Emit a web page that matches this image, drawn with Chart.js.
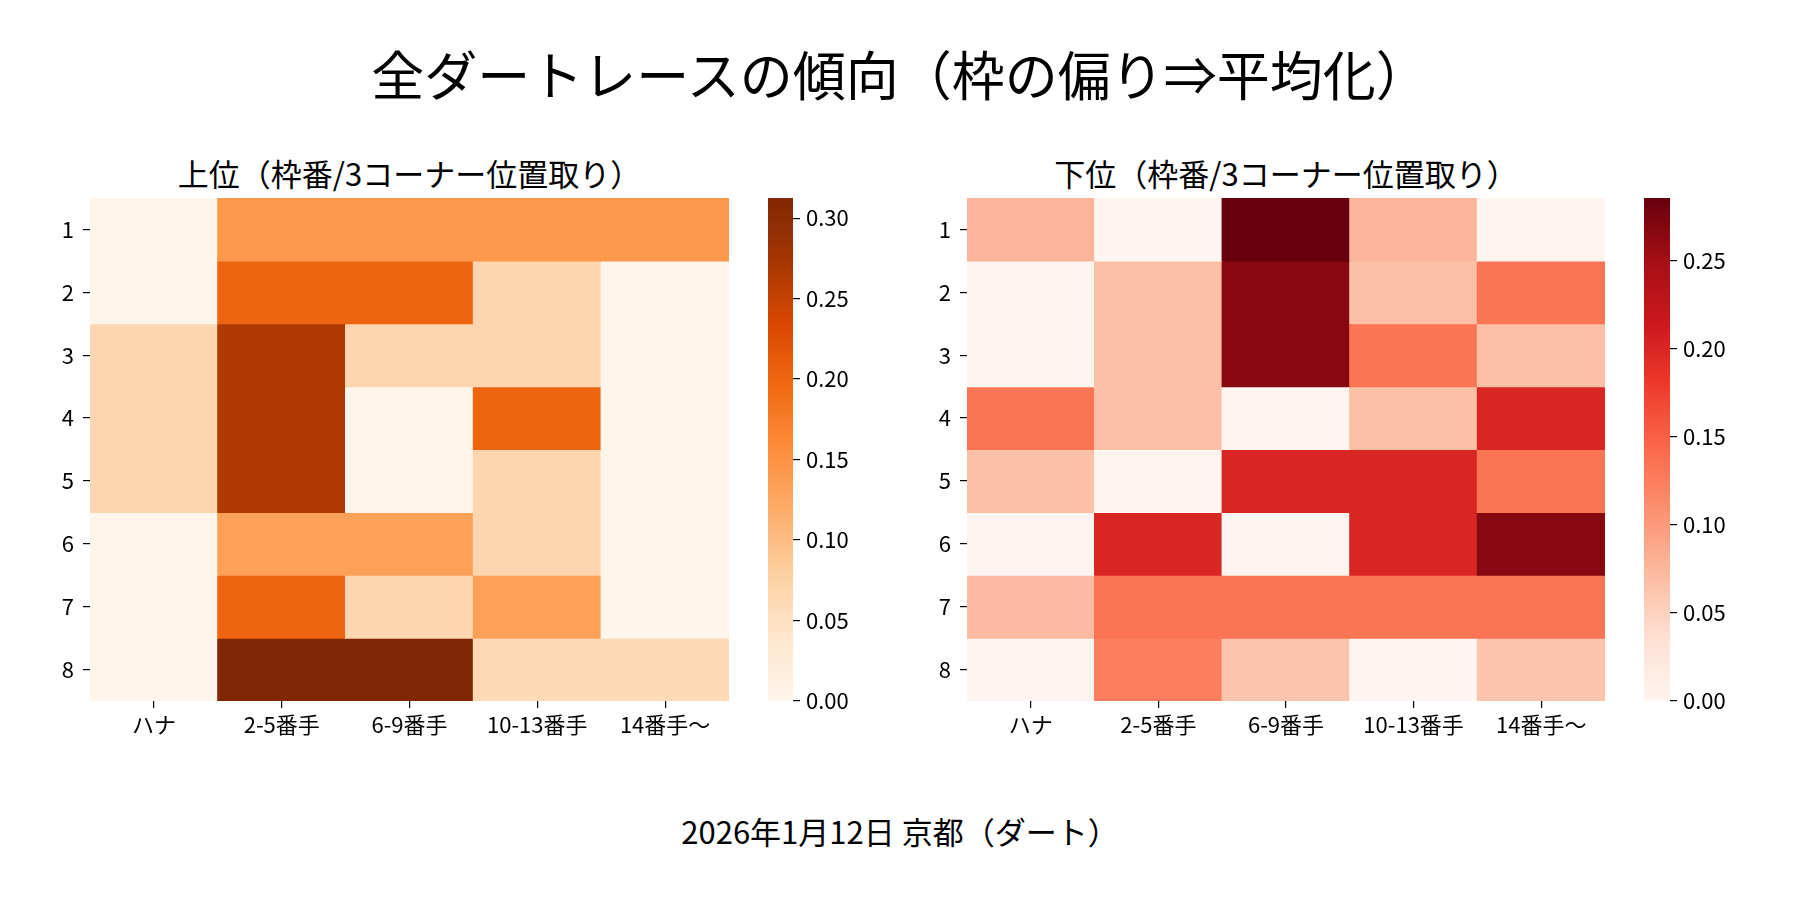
<!DOCTYPE html>
<html lang="ja">
<head>
<meta charset="utf-8">
<title>全ダートレースの傾向</title>
<script src="https://cdn.jsdelivr.net/npm/chart.js@4/dist/chart.umd.min.js"></script>
<style>
  body { margin: 0; background: #fff; }
  #page { position: relative; width: 1800px; height: 900px; font-family: "Noto Sans CJK JP", sans-serif; color: #000; }
  .txt { position: absolute; text-align: center; line-height: 1; white-space: nowrap; }
  canvas { position: absolute; }
</style>
</head>
<body>
<div id="page">
  <div class="txt" style="left:0;width:1800px;top:47px;font-size:53px;">全ダートレースの傾向（枠の偏り⇒平均化）</div>
  <div class="txt" style="left:90px;width:639px;top:157px;font-size:31px;">上位（枠番/3コーナー位置取り）</div>
  <div class="txt" style="left:967px;width:638px;top:157px;font-size:31px;">下位（枠番/3コーナー位置取り）</div>
  <div class="txt" style="left:0;width:1800px;top:815px;font-size:31px;">2026年1月12日 京都（ダート）</div>

  <canvas id="heatTop" width="699" height="583" style="left:40px;top:173px;width:699px;height:583px;"></canvas>
  <canvas id="barTop" width="85" height="553" style="left:768px;top:173px;width:85px;height:553px;"></canvas>
  <canvas id="heatBottom" width="698" height="583" style="left:917px;top:173px;width:698px;height:583px;"></canvas>
  <canvas id="barBottom" width="86" height="553" style="left:1644px;top:173px;width:86px;height:553px;"></canvas>
</div>

<script>
// categories
const positions = ['ハナ', '2-5番手', '6-9番手', '10-13番手', '14番手〜'];
const gates = ['1', '2', '3', '4', '5', '6', '7', '8'];

// 上位 rate per gate (rows) x 3rd-corner position (cols)
const topRates = [
    [0,     0.143, 0.143, 0.143, 0.143],
    [0,     0.2,   0.2,   0.067, 0],
    [0.067, 0.267, 0.067, 0.067, 0],
    [0.067, 0.267, 0,     0.2,   0],
    [0.067, 0.267, 0,     0.067, 0],
    [0,     0.133, 0.133, 0.067, 0],
    [0,     0.2,   0.067, 0.133, 0],
    [0,     0.3125, 0.3125, 0.0625, 0.0625]
];

// 下位 rate per gate x position
const bottomRates = [
    [0.077, 0,     0.2857, 0.077, 0],
    [0,     0.067, 0.267,  0.067, 0.133],
    [0,     0.067, 0.267,  0.133, 0.067],
    [0.133, 0.067, 0,      0.067, 0.2],
    [0.067, 0,     0.2,    0.2,   0.133],
    [0,     0.2,   0,      0.2,   0.267],
    [0.071, 0.133, 0.133,  0.133, 0.133],
    [0,     0.125, 0.0625, 0,     0.0625]
];

// colorbar tick labels
const topTicks = [0, 0.05, 0.10, 0.15, 0.20, 0.25, 0.30];
const bottomTicks = [0, 0.05, 0.10, 0.15, 0.20, 0.25];

// matplotlib Oranges / Reds
const orangesMap = ['#fff5eb', '#fee6ce', '#fdd0a2', '#fdae6b', '#fd8d3c', '#f16913', '#d94801', '#a63603', '#7f2704'];
const redsMap = ['#fff5f0', '#fee0d2', '#fcbba1', '#fc9272', '#fb6a4a', '#ef3b2c', '#cb181d', '#a50f15', '#67000d'];

const FONT = '"Noto Sans CJK JP", sans-serif';
Chart.defaults.font.family = FONT;
Chart.defaults.color = '#000';

function hexToRgb(h) {
    return [parseInt(h.slice(1, 3), 16), parseInt(h.slice(3, 5), 16), parseInt(h.slice(5, 7), 16)];
}

function colorAt(cmap, t) {
    t = Math.min(Math.max(t, 0), 1);
    const pos = t * (cmap.length - 1);
    const i = Math.min(Math.floor(pos), cmap.length - 2);
    const f = pos - i;
    const a = hexToRgb(cmap[i]);
    const b = hexToRgb(cmap[i + 1]);
    const c = a.map((v, k) => Math.round(v + (b[k] - v) * f));
    return `rgb(${c[0]}, ${c[1]}, ${c[2]})`;
}

const tickGrid = { display: true, drawOnChartArea: false, drawTicks: true, tickLength: 7, color: '#000', lineWidth: 1.2 };

function makeHeatmap(id, rates, cmap) {
    const vmax = Math.max(...rates.flat());
    new Chart(document.getElementById(id), {
        type: 'bar',
        data: {
            labels: positions,
            datasets: gates.map((g, i) => ({
                label: g,
                data: positions.map(() => 1),
                backgroundColor: rates[i].map(v => colorAt(cmap, v / vmax)),
                borderWidth: 0,
                inflateAmount: 0.6,
                barPercentage: 1,
                categoryPercentage: 1
            }))
        },
        options: {
            responsive: false,
            animation: false,
            layout: { padding: { top: 25, right: 10, bottom: 0, left: 0 } },
            plugins: { legend: { display: false }, tooltip: { enabled: false } },
            scales: {
                x: {
                    stacked: true,
                    grid: { ...tickGrid, offset: false },
                    border: { display: false },
                    ticks: { font: { size: 22 }, padding: 3, maxRotation: 0 },
                    afterFit: axis => { axis.height = 55; }
                },
                y: {
                    stacked: true,
                    reverse: true,
                    min: 0,
                    max: gates.length,
                    grid: tickGrid,
                    border: { display: false },
                    afterBuildTicks: axis => { axis.ticks = gates.map((g, i) => ({ value: i + 0.5 })); },
                    ticks: { font: { size: 22 }, padding: 9, callback: v => gates[Math.round(v - 0.5)] },
                    afterFit: axis => { axis.width = 50; }
                }
            }
        }
    });
}

function makeColorbar(id, rates, cmap, ticks) {
    const vmax = Math.max(...rates.flat());
    new Chart(document.getElementById(id), {
        type: 'bar',
        data: {
            labels: [''],
            datasets: [{
                data: [[0, vmax]],
                backgroundColor: ctx => {
                    const area = ctx.chart.chartArea;
                    if (!area) return cmap[0];
                    const g = ctx.chart.ctx.createLinearGradient(0, area.bottom, 0, area.top);
                    for (let k = 0; k <= 64; k++) g.addColorStop(k / 64, colorAt(cmap, k / 64));
                    return g;
                },
                borderWidth: 0,
                barPercentage: 1,
                categoryPercentage: 1
            }]
        },
        options: {
            responsive: false,
            animation: false,
            layout: { padding: { top: 25, right: 0, bottom: 25, left: 0 } },
            plugins: { legend: { display: false }, tooltip: { enabled: false } },
            scales: {
                x: { display: false },
                y: {
                    position: 'right',
                    min: 0,
                    max: vmax,
                    grid: tickGrid,
                    border: { display: false },
                    afterBuildTicks: axis => { axis.ticks = ticks.map(v => ({ value: v })); },
                    ticks: { font: { size: 22 }, padding: 6, callback: v => v.toFixed(2) },
                    afterFit: axis => { axis.width = 60; }
                }
            }
        }
    });
}

makeHeatmap('heatTop', topRates, orangesMap);
makeColorbar('barTop', topRates, orangesMap, topTicks);
makeHeatmap('heatBottom', bottomRates, redsMap);
makeColorbar('barBottom', bottomRates, redsMap, bottomTicks);
</script>
</body>
</html>
